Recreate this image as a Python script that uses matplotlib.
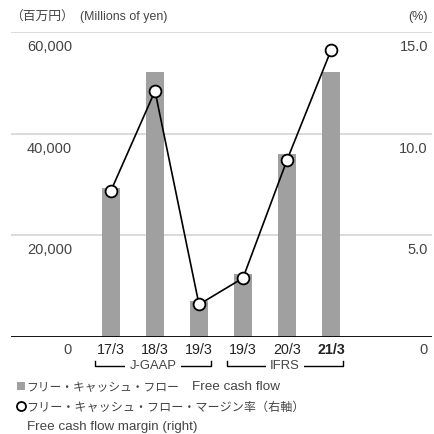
import matplotlib
matplotlib.use("Agg")
import matplotlib.pyplot as plt
import matplotlib.transforms as mtransforms
from matplotlib.lines import Line2D
from matplotlib.patches import Rectangle

LAT = ['Liberation Sans', 'Noto Sans CJK JP']
JP = ['Noto Sans CJK JP', 'DejaVu Sans']
plt.rcParams['font.family'] = LAT

# data
periods = ["17/3", "18/3", "19/3", "19/3", "20/3", "21/3"]
fcf = [29300, 52100, 7100, 12400, 36000, 52100]          # millions of yen
fcf_margin = [7.2, 12.1, 1.6, 2.9, 8.7, 14.1]            # %
left_ticks = [20000, 40000, 60000]
left_labels = ["20,000", "40,000", "60,000"]
right_labels = ["5.0", "10.0", "15.0"]
groups = [("J-GAAP", 0, 2), ("IFRS", 3, 5)]

W, H = 434, 435
fig = plt.figure(figsize=(W / 100, H / 100), dpi=100)
ax = fig.add_axes([11 / W, (H - 338) / H, 421 / W, 305 / H])
ax2 = ax.twinx()

x = list(range(len(periods)))
ax.set_xlim(-100 / 44, 321 / 44)
ax.set_ylim(0, 60000)
ax2.set_ylim(0, 15)

for t in left_ticks:
    ax.axhline(t, color='#d4d4d4', lw=1.2, zorder=0)
ax.bar(x, fcf, width=18 / 44, color='#a0a0a0', zorder=2)
ax.axhline(0, color='black', lw=1.3, zorder=3)

ax2.plot(x, fcf_margin, color='black', lw=1.2, marker='o', ms=8.5,
         mfc='white', mec='black', mew=1.3, zorder=5, clip_on=False)

for a in (ax, ax2):
    for s in a.spines.values():
        s.set_visible(False)
    a.set_xticks([])
    a.set_yticks([])

txt = '#444444'
lx = (72 - 111) / 44
rx = (428 - 111) / 44
for t, l, r in zip([0] + left_ticks, ["0"] + left_labels, ["0"] + right_labels):
    off = -12 if t == 0 else -14
    tr = mtransforms.offset_copy(ax.transData, fig=fig, x=0, y=off, units='dots')
    ax.text(lx, t, l, transform=tr, ha='right', va='center', fontsize=10.5, color=txt)
    ax.text(rx, t, r, transform=tr, ha='right', va='center', fontsize=10.5, color=txt)

lab_tr = mtransforms.offset_copy(ax.transData, fig=fig, x=0, y=-12, units='dots')
for i, p in enumerate(periods):
    ax.text(i, 0, p, transform=lab_tr, ha='center', va='center', fontsize=10.3,
            color='#222222', fontweight='bold' if i == len(periods) - 1 else 'normal')

# accounting standard brackets
btr = mtransforms.blended_transform_factory(ax.transData, ax.transAxes)
yb = (338 - 366.5) / 305
yt = (338 - 362) / 305
for name, i0, i1 in groups:
    x0 = i0 - 16 / 44
    x1 = i1 + 12 / 44
    ax.plot([x0, x0, x1, x1], [yt, yb, yb, yt], transform=btr, color='black',
            lw=1.0, clip_on=False)
    ax.text((x0 + x1) / 2, yb, name, transform=btr, ha='center', va='center',
            fontsize=9.4, color=txt, clip_on=False,
            bbox=dict(facecolor='white', edgecolor='none', pad=3))

# headers
fig.text(10 / W, 1 - 17 / H, "（百万円）", ha='left', va='center',
         fontsize=9.2, color=txt, family=JP)
fig.text(80 / W, 1 - 17 / H, "(Millions of yen)", ha='left', va='center',
         fontsize=8.9, color=txt)
fig.text(428 / W, 1 - 17 / H, "(%)", ha='right', va='center', fontsize=9, color=txt)

# legend
fig.add_artist(Rectangle((17 / W, 1 - 391 / H), 8 / W, 8 / H, transform=fig.transFigure,
                         facecolor='#a0a0a0', edgecolor='none'))
fig.text(26 / W, 1 - 387 / H, "フリー・キャッシュ・フロー", ha='left',
         va='center', fontsize=8.5, color=txt, family=JP)
fig.text(192 / W, 1 - 387 / H, "Free cash flow", ha='left',
         va='center', fontsize=9.7, color=txt)
fig.add_artist(Line2D([21 / W], [1 - 407 / H], transform=fig.transFigure, marker='o',
                      ms=6.5, mfc='white', mec='black', mew=1.3))
fig.text(26 / W, 1 - 407 / H, "フリー・キャッシュ・フロー・マージン率（右軸）", ha='left',
         va='center', fontsize=8.7, color=txt, family=JP)
fig.text(27 / W, 1 - 427 / H, "Free cash flow margin (right)", ha='left',
         va='center', fontsize=9.6, color=txt)

fig.savefig("out.png", dpi=100)
